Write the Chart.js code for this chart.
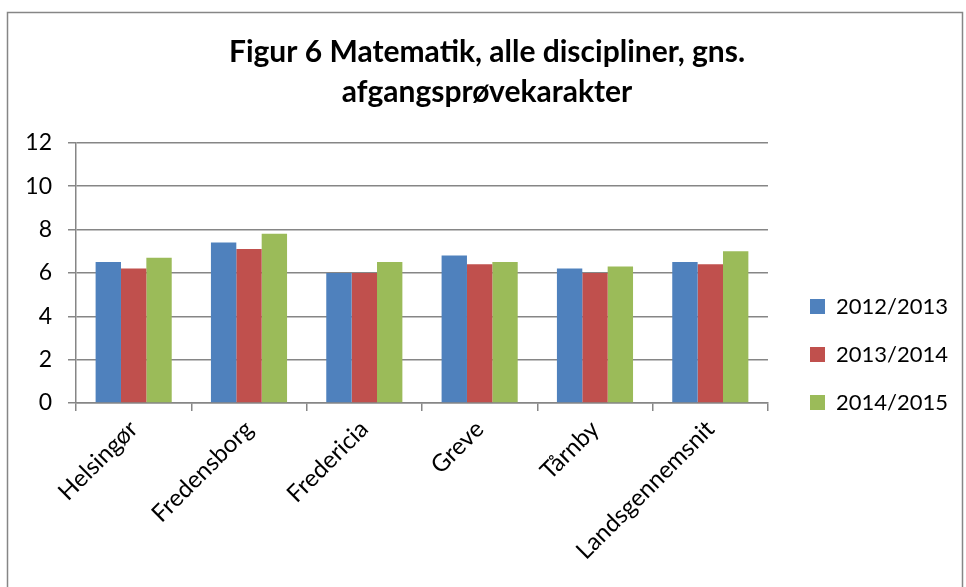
<!DOCTYPE html>
<html>
<head>
<meta charset="utf-8">
<script src="https://cdn.jsdelivr.net/npm/chart.js@4"></script>
<style>
  html, body { margin: 0; padding: 0; background: #fff; }
  #wrap { width: 966px; height: 587px; }
</style>
</head>
<body>
<div id="wrap"><canvas id="figur6" width="966" height="587"></canvas></div>
<script>
// Data
const kommuner = ['Helsingør', 'Fredensborg', 'Fredericia', 'Greve', 'Tårnby', 'Landsgennemsnit'];
const aar2012 = [6.5, 7.4, 6.0, 6.8, 6.2, 6.5];
const aar2013 = [6.2, 7.1, 6.0, 6.4, 6.0, 6.4];
const aar2014 = [6.7, 7.8, 6.5, 6.5, 6.3, 7.0];
const serieNavne = ['2012/2013', '2013/2014', '2014/2015'];
const yTicks = [0, 2, 4, 6, 8, 10, 12];

const fontFamily = 'Lato, "Open Sans", sans-serif';
const axisGray = '#868686';

// Ramme rundt om diagrammet
const rammePlugin = {
    id: 'ramme',
    afterInit(chart) {
        // forklaringen må gerne være bredere end layoutets standardgrænse
        const legend = chart.legend;
        if (legend) {
            const fit = legend.fit;
            legend.fit = function () {
                this.maxWidth = 300;
                fit.call(this);
            };
        }
    },
    beforeDraw(chart) {
        const ctx = chart.ctx;
        ctx.save();
        ctx.fillStyle = '#fff';
        ctx.fillRect(0, 0, chart.width, chart.height);
        ctx.strokeStyle = axisGray;
        ctx.lineWidth = 1.5;
        ctx.strokeRect(7.5, 12.5, 955, 600);
        ctx.restore();
    }
};

const ctx = document.getElementById('figur6').getContext('2d');
new Chart(ctx, {
    type: 'bar',
    data: {
        labels: kommuner,
        datasets: [
            { label: serieNavne[0], data: aar2012, backgroundColor: '#4F81BD' },
            { label: serieNavne[1], data: aar2013, backgroundColor: '#C0504D' },
            { label: serieNavne[2], data: aar2014, backgroundColor: '#9BBB59' }
        ]
    },
    options: {
        responsive: false,
        animation: false,
        categoryPercentage: 0.66,
        barPercentage: 1.0,
        layout: { padding: { left: 16, right: 8, top: 32, bottom: 20 } },
        plugins: {
            title: {
                display: true,
                text: ['Figur 6 Matematik, alle discipliner, gns.', 'afgangsprøvekarakter'],
                color: '#000',
                font: { family: fontFamily, size: 30, weight: 'bold', lineHeight: 1.33 },
                padding: { top: 0, bottom: 31 }
            },
            legend: {
                position: 'right',
                // tom titel skubber forklaringen ned på højde med søjlerne
                title: {
                    display: true,
                    text: '',
                    font: { size: 10, lineHeight: 1.2 },
                    padding: { top: 0, bottom: 98 }
                },
                labels: {
                    color: '#000',
                    font: { family: fontFamily, size: 22 },
                    boxWidth: 15,
                    boxHeight: 15,
                    padding: 26
                }
            },
            tooltip: { enabled: false }
        },
        scales: {
            x: {
                offset: true,
                afterFit(scale) { scale.height = 164; },
                grid: {
                    offset: true,
                    drawOnChartArea: false,
                    drawTicks: true,
                    tickLength: 8,
                    color: axisGray,
                    lineWidth: 1.5
                },
                border: { color: axisGray, width: 1.5 },
                ticks: {
                    color: '#000',
                    font: { family: fontFamily, size: 24 },
                    minRotation: 45,
                    maxRotation: 45,
                    padding: 4
                }
            },
            y: {
                min: 0,
                max: 12,
                afterFit(scale) { scale.width = 60; },
                afterBuildTicks(scale) {
                    scale.ticks = yTicks.map(v => ({ value: v }));
                },
                grid: {
                    color: axisGray,
                    lineWidth: 1.5,
                    tickLength: 8
                },
                border: { color: axisGray, width: 1.5 },
                ticks: {
                    color: '#000',
                    font: { family: fontFamily, size: 23 },
                    padding: 16
                }
            },
            // tom akse som luft mellem plot og forklaring
            luft: {
                position: 'right',
                afterFit(scale) { scale.width = 16; },
                grid: { display: false },
                border: { display: false },
                ticks: { display: false }
            }
        }
    },
    plugins: [rammePlugin]
});
</script>
</body>
</html>
